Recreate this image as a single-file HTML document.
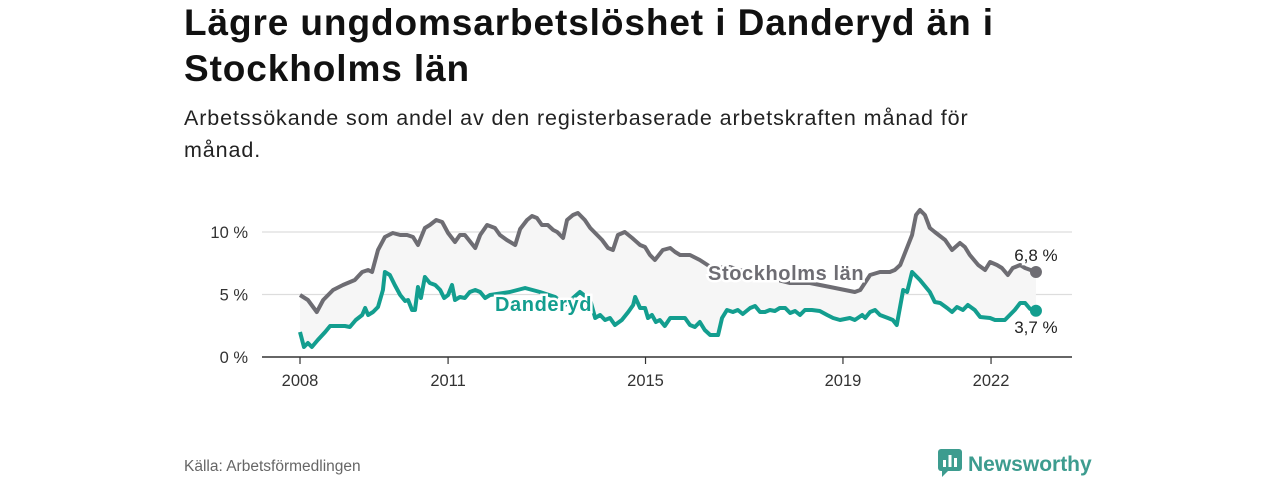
<!DOCTYPE html>
<html><head><meta charset="utf-8"><style>
body{margin:0;width:1280px;height:480px;background:#fff;font-family:"Liberation Sans",sans-serif;overflow:hidden;position:relative}
h1{position:absolute;left:184px;top:0;margin:0;font-size:37px;line-height:46px;letter-spacing:0.9px;font-weight:bold;color:#111;width:900px}
.sub{position:absolute;left:184px;top:102px;font-size:21.5px;line-height:32px;letter-spacing:0.9px;color:#222;width:850px}
.src{position:absolute;left:184px;top:458px;font-size:15.5px;color:#666}
.logo{position:absolute;left:938px;top:449px;font-size:21px;font-weight:bold;color:#3d9c8f}
</style></head><body>
<h1>Lägre ungdomsarbetslöshet i Danderyd än i Stockholms län</h1>
<div class="sub">Arbetssökande som andel av den registerbaserade arbetskraften månad för månad.</div>
<svg id="chart" width="1280" height="480" style="position:absolute;left:0;top:0"></svg>
<div class="src">Källa: Arbetsförmedlingen</div>
<div class="logo"><svg width="24" height="28" style="vertical-align:-6px;margin-right:6px"><rect x="0" y="0" width="24" height="22" rx="3" fill="#3d9c8f"/><polygon points="4,22 10,22 4,28" fill="#3d9c8f"/><rect x="5" y="11" width="3" height="7" fill="#fff"/><rect x="10.5" y="6" width="3" height="12" fill="#fff"/><rect x="16" y="9" width="3" height="9" fill="#fff"/></svg>Newsworthy</div>
<script>
const stockholmDates=[2008.00,2008.16,2008.34,2008.47,2008.67,2008.87,2009.11,2009.26,2009.38,2009.46,2009.58,2009.72,2009.88,2010.03,2010.17,2010.29,2010.39,2010.53,2010.63,2010.76,2010.88,2011.00,2011.14,2011.24,2011.34,2011.55,2011.65,2011.79,2011.95,2012.05,2012.19,2012.36,2012.46,2012.60,2012.70,2012.80,2012.90,2013.02,2013.13,2013.21,2013.33,2013.41,2013.53,2013.63,2013.77,2013.88,2014.02,2014.12,2014.24,2014.34,2014.44,2014.58,2014.73,2014.89,2014.99,2015.09,2015.19,2015.35,2015.50,2015.60,2015.70,2015.90,2016.10,2016.35,2016.71,2017.12,2017.52,2017.93,2018.33,2018.74,2019.04,2019.24,2019.35,2019.55,2019.75,2019.95,2020.05,2020.16,2020.32,2020.40,2020.48,2020.56,2020.66,2020.76,2020.86,2021.07,2021.21,2021.37,2021.47,2021.57,2021.74,2021.88,2021.98,2022.12,2022.22,2022.34,2022.44,2022.59,2022.69,2022.91];
const stockholmValues=[4.96,4.56,3.6,4.56,5.36,5.76,6.16,6.8,6.96,6.8,8.56,9.6,9.92,9.76,9.76,9.6,8.96,10.32,10.56,10.96,10.8,9.92,9.2,9.76,9.76,8.72,9.76,10.56,10.32,9.76,9.36,8.96,10.24,10.96,11.28,11.12,10.56,10.56,10.16,10.0,9.52,10.96,11.36,11.52,10.96,10.32,9.76,9.36,8.72,8.56,9.76,10.0,9.52,8.96,8.8,8.16,7.76,8.56,8.72,8.4,8.16,8.16,7.76,7.12,7.2,6.72,6.32,5.92,5.92,5.6,5.36,5.2,5.36,6.56,6.8,6.8,6.96,7.36,8.96,9.76,11.36,11.76,11.36,10.32,10.0,9.36,8.56,9.12,8.8,8.16,7.36,6.96,7.6,7.36,7.12,6.56,7.12,7.36,7.12,6.8];
const danderydDates=[2008.00,2008.08,2008.16,2008.24,2008.36,2008.51,2008.61,2008.91,2009.01,2009.13,2009.26,2009.32,2009.38,2009.48,2009.58,2009.68,2009.72,2009.82,2009.92,2010.03,2010.13,2010.19,2010.27,2010.33,2010.39,2010.45,2010.53,2010.63,2010.74,2010.84,2010.92,2011.00,2011.08,2011.14,2011.24,2011.34,2011.44,2011.55,2011.65,2011.75,2011.85,2012.25,2012.56,2012.86,2013.17,2013.37,2013.67,2013.88,2013.98,2014.08,2014.18,2014.28,2014.38,2014.52,2014.65,2014.75,2014.79,2014.89,2014.99,2015.05,2015.13,2015.21,2015.29,2015.39,2015.50,2015.80,2015.90,2016.00,2016.10,2016.20,2016.31,2016.47,2016.55,2016.65,2016.77,2016.87,2016.97,2017.12,2017.22,2017.32,2017.42,2017.52,2017.62,2017.72,2017.83,2017.93,2018.03,2018.13,2018.23,2018.37,2018.53,2018.68,2018.80,2018.94,2019.14,2019.24,2019.39,2019.45,2019.55,2019.65,2019.75,2019.91,2020.01,2020.09,2020.22,2020.30,2020.40,2020.56,2020.76,2020.86,2020.97,2021.11,2021.21,2021.31,2021.43,2021.53,2021.67,2021.78,2021.98,2022.08,2022.28,2022.38,2022.48,2022.59,2022.69,2022.79,2022.91];
const danderydValues=[2.0,0.8,1.12,0.8,1.36,2.0,2.48,2.48,2.4,2.96,3.36,3.92,3.36,3.6,4.0,5.36,6.8,6.56,5.76,4.96,4.48,4.56,3.76,3.76,5.6,4.72,6.4,5.92,5.76,5.36,4.72,4.96,5.76,4.56,4.8,4.72,5.2,5.36,5.2,4.72,4.96,5.2,5.52,5.2,4.8,4.16,5.2,4.56,3.12,3.36,2.96,3.12,2.56,2.96,3.6,4.16,4.8,3.92,3.92,3.12,3.36,2.8,2.96,2.48,3.12,3.12,2.56,2.4,2.8,2.16,1.76,1.76,3.12,3.76,3.6,3.76,3.44,3.92,4.08,3.6,3.6,3.76,3.68,3.92,3.92,3.52,3.68,3.36,3.76,3.76,3.68,3.36,3.12,2.96,3.12,2.96,3.36,3.12,3.6,3.76,3.36,3.12,2.96,2.56,5.36,5.2,6.8,6.16,5.2,4.4,4.32,3.92,3.6,4.0,3.76,4.16,3.76,3.2,3.12,2.96,2.96,3.36,3.76,4.32,4.32,3.85,3.7];
const yTicks=[0,5,10];
const yTickLabels=["0 %","5 %","10 %"];
const xTicks=[2008,2011,2015,2019,2022];
const xTickLabels=["2008","2011","2015","2019","2022"];

const NS="http://www.w3.org/2000/svg";
const svg=document.getElementById('chart');
const X=v=>300+(v-2008)*49.36;
const Y=v=>357-v*12.5;
function mk(t,a,p){const e=document.createElementNS(NS,t);for(const k in a)e.setAttribute(k,a[k]);(p||svg).appendChild(e);return e;}
yTicks.forEach((t,i)=>{
  const g=mk('line',{x1:262,x2:1072,y1:Y(t),y2:Y(t),stroke:t===0?'#333':'#ddd','stroke-width':t===0?1.5:1.2});
  
  
  const l=mk('text',{x:248,y:Y(t)+6,'text-anchor':'end','font-size':16.5,fill:'#333'});
  l.textContent=yTickLabels[i];
  
  
});
xTicks.forEach((t,i)=>{
  const k=mk('line',{x1:X(t),x2:X(t),y1:357,y2:364,stroke:'#333','stroke-width':1.2});
  
  
  const l=mk('text',{x:X(t),y:386,'text-anchor':'middle','font-size':16.5,fill:'#333'});
  l.textContent=xTickLabels[i];
  
  
});
const sPts=stockholmDates.map((d,i)=>[X(d),Y(stockholmValues[i])]);
const dPts=danderydDates.map((d,i)=>[X(d),Y(danderydValues[i])]);
const area=mk('polygon',{points:sPts.concat(dPts.slice().reverse()).map(p=>p.join(',')).join(' '),fill:'#f6f6f6'});


const sl=mk('polyline',{points:sPts.map(p=>p.join(',')).join(' '),fill:'none',stroke:'#6e6d73','stroke-width':4,'stroke-linejoin':'round'});


const dl=mk('polyline',{points:dPts.map(p=>p.join(',')).join(' '),fill:'none',stroke:'#139e8f','stroke-width':4,'stroke-linejoin':'round'});


const se=sPts[sPts.length-1], de=dPts[dPts.length-1];
const sd=mk('circle',{cx:se[0],cy:se[1],r:6,fill:'#6e6d73'});


const dd=mk('circle',{cx:de[0],cy:de[1],r:6,fill:'#139e8f'});


const sv=mk('text',{x:se[0],y:se[1]-11,'text-anchor':'middle','font-size':17,fill:'#222',stroke:'#fff','stroke-width':4,'paint-order':'stroke'});
sv.textContent=stockholmValues[stockholmValues.length-1].toFixed(1).replace('.',',')+' %';


const dv=mk('text',{x:de[0],y:de[1]+22,'text-anchor':'middle','font-size':17,fill:'#222',stroke:'#fff','stroke-width':4,'paint-order':'stroke'});
dv.textContent=danderydValues[danderydValues.length-1].toFixed(1).replace('.',',')+' %';


const sn=mk('text',{x:708,y:280,'font-size':20,'font-weight':'bold','letter-spacing':0.6,fill:'#6e6d73',stroke:'#fff','stroke-width':5,'paint-order':'stroke'});
sn.textContent='Stockholms län';


const dn=mk('text',{x:495,y:311,'font-size':20,'font-weight':'bold','letter-spacing':0.6,fill:'#139e8f',stroke:'#fff','stroke-width':5,'paint-order':'stroke'});
dn.textContent='Danderyd';


</script>
</body></html>
